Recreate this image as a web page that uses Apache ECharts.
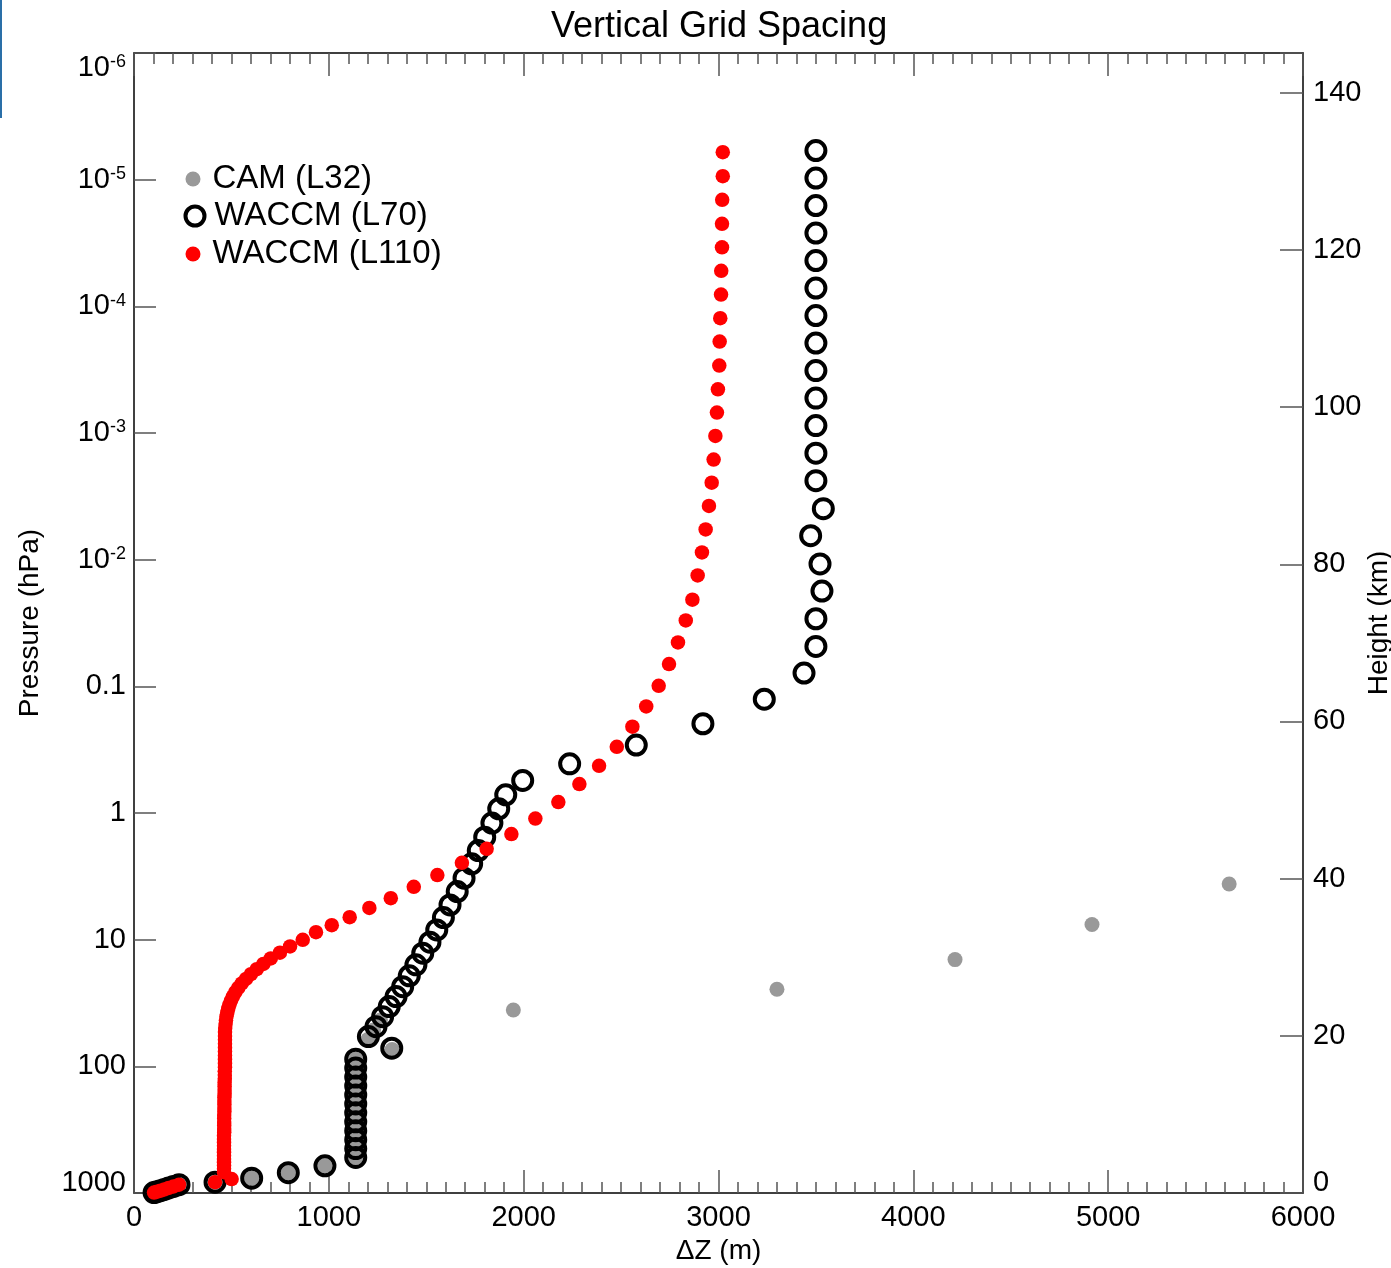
<!DOCTYPE html>
<html>
<head>
<meta charset="utf-8">
<script src="https://cdn.jsdelivr.net/npm/echarts@6/dist/echarts.min.js"></script>
<style>
html,body{margin:0;padding:0;background:#fff;overflow:hidden;}
#chart{width:1391px;height:1268px;}
</style>
</head>
<body>
<div id="chart"></div>
<script>
// ---------- DATA ----------
// Heights are log-pressure heights in km (right axis), dz in metres (x axis).

// CAM (L32)
const camDz = [5621, 4917, 4214, 3300, 1947, 1265, 1230, 1200, 1325,
  1138, 1138, 1138, 1138, 1138, 1138, 1138, 1138, 1138, 1138, 1138, 1138,
  980, 792, 604, 416, 231, 203, 178, 156, 136, 118, 103];
const camZ = [39.31, 34.17, 29.70, 25.93, 23.29, 22.00, 20.74, 19.52, 18.25,
  17.03, 15.89, 14.75, 13.62, 12.48, 11.34, 10.20, 9.06, 7.93, 6.79, 5.65, 4.52,
  3.46, 2.58, 1.89, 1.38, 1.06, 0.84, 0.64, 0.46, 0.30, 0.17, 0.05];

// WACCM (L70)
const l70Dz = [3500, 3500, 3500, 3500, 3500, 3500, 3500, 3500, 3500, 3500, 3500, 3500, 3500,
  3538, 3473, 3521, 3531, 3500, 3500, 3439, 3235, 2920, 2578, 2236, 1995,
  1908, 1872, 1837, 1800, 1767, 1733, 1694, 1659, 1622, 1588, 1554, 1519, 1482, 1447,
  1413, 1379, 1345, 1310, 1276, 1242, 1203, 1323,
  1138, 1138, 1138, 1138, 1138, 1138, 1138, 1138, 1138, 1138, 1138, 1138,
  980, 792, 604, 416, 231, 203, 178, 156, 136, 118, 103];
const l70Z = [132.65, 129.15, 125.65, 122.15, 118.65, 115.15, 111.65, 108.15, 104.65, 101.15, 97.65, 94.14, 90.64,
  87.08, 83.64, 80.04, 76.60, 73.07, 69.55, 66.16, 62.83, 59.71, 57.00, 54.61, 52.49,
  50.67, 48.89, 47.07, 45.28, 43.58, 41.88, 40.06, 38.36, 36.66, 35.05, 33.48, 31.92, 30.52, 29.03,
  27.63, 26.26, 24.99, 23.72, 22.44, 21.17, 19.90, 18.42,
  17.03, 15.89, 14.75, 13.62, 12.48, 11.34, 10.20, 9.06, 7.93, 6.79, 5.65, 4.52,
  3.46, 2.58, 1.89, 1.38, 1.06, 0.84, 0.64, 0.46, 0.30, 0.17, 0.05];

// WACCM (L110)
const l110Dz = [3022, 3022, 3019, 3018, 3018, 3014, 3013, 3009, 3006, 3004, 2997, 2992, 2984, 2975, 2965, 2951, 2934, 2915, 2893,
  2866, 2832, 2792, 2746, 2693, 2629, 2558, 2478, 2387, 2286, 2178, 2060, 1937, 1810, 1683, 1557, 1436,
  1318, 1208, 1107, 1015, 934, 866,
  801, 749, 702, 664, 630, 600, 575, 553, 535, 520, 508, 498, 490, 484, 479, 475, 472, 470, 468,
  467, 467, 467, 467, 467, 467, 467, 467, 467, 467,
  466, 466, 466, 465, 465, 465, 465, 464, 464, 464, 464, 464, 463, 463, 463, 463, 463, 463,
  462, 462, 462, 462, 462, 462, 462, 462, 462, 462, 462, 462,
  501, 416, 231, 203, 178, 156, 136, 118, 103];
const l110Z = [132.44, 129.38, 126.38, 123.32, 120.34, 117.34, 114.32, 111.31, 108.34, 105.28, 102.27, 99.30, 96.33, 93.32, 90.39, 87.42, 84.44, 81.51, 78.59,
  75.49, 72.86, 70.06, 67.31, 64.54, 61.91, 59.33, 56.78, 54.36, 52.03, 49.74, 47.65, 45.67, 43.79, 42.01, 40.45, 38.96,
  37.52, 36.28, 35.10, 34.08, 33.19, 32.21,
  31.37, 30.58, 29.84, 29.14, 28.48, 27.84, 27.24, 26.66, 26.10, 25.55, 25.02, 24.49, 23.98, 23.48, 22.98, 22.48, 21.99, 21.49, 20.99,
  20.49, 19.99, 19.49, 18.99, 18.49, 17.99, 17.49, 16.99, 16.49, 15.99,
  15.50, 15.01, 14.53, 14.05, 13.58, 13.11, 12.64, 12.18, 11.72, 11.26, 10.81, 10.36, 9.91, 9.47, 9.03, 8.59, 8.15, 7.72,
  7.29, 6.86, 6.43, 6.01, 5.59, 5.17, 4.75, 4.33, 3.91, 3.49, 3.07, 2.65,
  1.78, 1.38, 1.06, 0.84, 0.64, 0.46, 0.30, 0.17, 0.05];

// Left-axis (pressure) tick labels, from -log10(p) = -3 (1000 hPa) to 6 (1e-6 hPa)
const pressureTickValues = [-3, -2, -1, 0, 1, 2, 3, 4, 5, 6];
const pressureTickLabels = ['{lo|1000}', '100', '10', '1', '0.1',
  '10{sup|-2}', '10{sup|-3}', '10{sup|-4}', '10{sup|-5}', '10{sup|-6}'];

const seriesNames = ['CAM (L32)', 'WACCM (L70)', 'WACCM (L110)'];

// ---------- CHART ----------
const FONT = '"Liberation Sans", Arial, Helvetica, sans-serif';
const chart = echarts.init(document.getElementById('chart'), null, {renderer: 'canvas'});

const pair = (xs, ys) => xs.map((x, i) => [x, ys[i]]);
const tickCol = '#555';
const TICK_FS = 29;

const xCommon = {
  type: 'value', min: 0, max: 6000, interval: 1000,
  axisLine: {show: true, onZero: false, lineStyle: {color: '#000', width: 1.5}},
  axisTick: {show: true, inside: true, length: 23, lineStyle: {color: tickCol, width: 1.5}},
  minorTick: {show: true, splitNumber: 10, length: 11, lineStyle: {color: tickCol, width: 1.5}},
  splitLine: {show: false}
};

const legendText = pad => ({fontFamily: FONT, fontSize: 33, lineHeight: 36, color: '#000', padding: [0, 0, 0, pad]});
const loStyle = {fontFamily: FONT, fontSize: TICK_FS, lineHeight: 29, color: '#000', padding: [0, 0, 20, 0]};

const option = {
  animation: false,
  backgroundColor: '#fff',
  title: {
    text: 'Vertical Grid Spacing',
    left: 551, top: 7, padding: 0,
    textStyle: {fontFamily: FONT, fontSize: 36, fontWeight: 'normal', color: '#000', lineHeight: 40}
  },
  graphic: [{type: 'rect', left: 0, top: 0, shape: {width: 2, height: 118}, style: {fill: '#2a6fa8'}, silent: true}],
  legend: [
    {data: [seriesNames[0]], left: 185.5, top: 161, padding: 0, itemWidth: 15, itemHeight: 15, icon: 'circle',
     selectedMode: false, textStyle: legendText(7)},
    {data: [seriesNames[1]], left: 183.5, top: 198, padding: 0, itemWidth: 19, itemHeight: 19, icon: 'circle',
     selectedMode: false, itemStyle: {color: 'rgba(0,0,0,0)', borderColor: '#000', borderWidth: 4, opacity: 1},
     textStyle: legendText(5)},
    {data: [seriesNames[2]], left: 185.5, top: 236, padding: 0, itemWidth: 15, itemHeight: 15, icon: 'circle',
     selectedMode: false, textStyle: legendText(7)}
  ],
  grid: {left: 134, right: 88, top: 53, bottom: 75, containLabel: false, outerBoundsMode: 'none'},
  xAxis: [
    Object.assign({}, xCommon, {
      position: 'bottom',
      name: 'ΔZ (m)', nameLocation: 'middle', nameGap: 42,
      nameTextStyle: {fontFamily: FONT, fontSize: 28, color: '#000'},
      axisLabel: {fontFamily: FONT, fontSize: TICK_FS, color: '#000', margin: 10, formatter: v => String(v)}
    }),
    Object.assign({}, xCommon, {position: 'top', axisLabel: {show: false}})
  ],
  yAxis: [
    {
      type: 'value', min: -3, max: 6, interval: 1, position: 'left',
      name: 'Pressure (hPa)', nameLocation: 'middle', nameGap: 90, nameRotate: 90,
      nameTextStyle: {fontFamily: FONT, fontSize: 28, color: '#000'},
      axisLine: {show: true, onZero: false, lineStyle: {color: '#000', width: 1.5}},
      axisTick: {show: true, inside: true, length: 22, lineStyle: {color: tickCol, width: 1.5}},
      splitLine: {show: false},
      axisLabel: {
        fontFamily: FONT, fontSize: TICK_FS, lineHeight: 29, color: '#000', margin: 8,
        verticalAlignMaxLabel: 'top',
        formatter: v => {
          const i = pressureTickValues.indexOf(Math.round(v));
          return i >= 0 ? pressureTickLabels[i] : '';
        },
        rich: {
          sup: {fontFamily: FONT, fontSize: 18, lineHeight: 18, verticalAlign: 'top', color: '#000'},
          lo: loStyle
        }
      }
    },
    {
      // log-pressure height, 7 km scale height: 7*ln(1e9) = 145.06 km at 1e-6 hPa
      type: 'value', min: 0, max: 145.06, interval: 20, position: 'right',
      name: 'Height (km)', nameLocation: 'middle', nameGap: 62, nameRotate: 90, nameMoveOverlap: false,
      nameTextStyle: {fontFamily: FONT, fontSize: 28, color: '#000'},
      axisLine: {show: true, onZero: false, lineStyle: {color: '#000', width: 1.5}},
      axisTick: {show: true, inside: true, length: 23, lineStyle: {color: tickCol, width: 1.5}},
      splitLine: {show: false},
      axisLabel: {
        fontFamily: FONT, fontSize: TICK_FS, color: '#000', margin: 10,
        formatter: v => {
          if (Math.abs(v / 20 - Math.round(v / 20)) > 1e-6) return '';
          return v === 0 ? '{lo|0}' : String(Math.round(v));
        },
        rich: {lo: loStyle}
      }
    }
  ],
  series: [
    {
      name: seriesNames[0], type: 'scatter', xAxisIndex: 0, yAxisIndex: 1,
      symbol: 'circle', symbolSize: 15, clip: false,
      itemStyle: {color: '#999999', opacity: 1},
      emphasis: {disabled: true},
      data: pair(camDz, camZ)
    },
    {
      name: seriesNames[1], type: 'scatter', xAxisIndex: 0, yAxisIndex: 1,
      symbol: 'circle', symbolSize: 19, clip: false,
      itemStyle: {color: 'rgba(0,0,0,0)', borderColor: '#000', borderWidth: 4, opacity: 1},
      emphasis: {disabled: true},
      data: pair(l70Dz, l70Z)
    },
    {
      name: seriesNames[2], type: 'scatter', xAxisIndex: 0, yAxisIndex: 1,
      symbol: 'circle', symbolSize: 14.5, clip: false,
      itemStyle: {color: '#ff0000', opacity: 1},
      emphasis: {disabled: true},
      data: pair(l110Dz, l110Z)
    }
  ]
};
chart.setOption(option);
</script>
</body>
</html>
